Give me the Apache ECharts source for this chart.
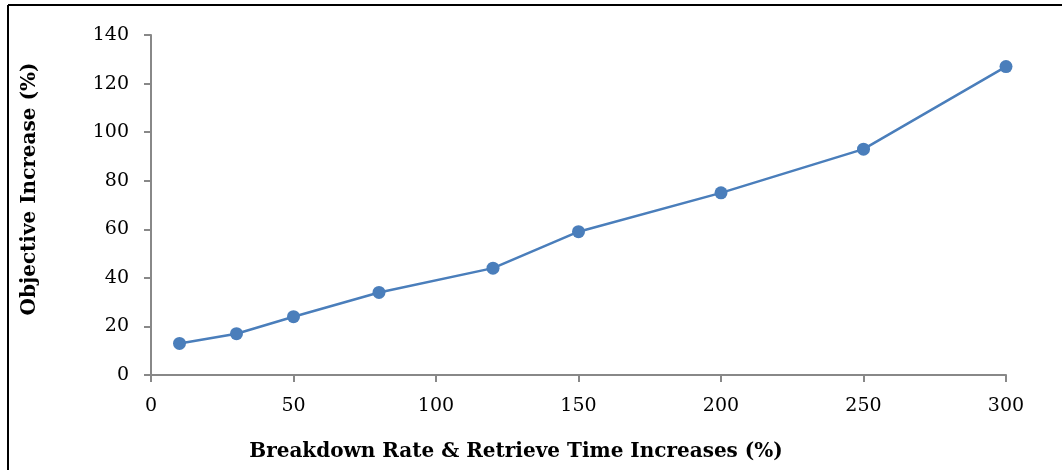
<!DOCTYPE html>
<html><head><meta charset="utf-8">
<script src="https://cdn.jsdelivr.net/npm/echarts@6/dist/echarts.min.js"></script>
<style>html,body{margin:0;padding:0;background:#fff}#c{width:1062px;height:470px}</style>
</head><body><div id="c"></div>
<script>
const xValues = [10, 30, 50, 80, 120, 150, 200, 250, 300];
const yValues = [13, 17, 24, 34, 44, 59, 75, 93, 127];
const xTitle = 'Breakdown Rate & Retrieve Time Increases (%)';
const yTitle = 'Objective Increase (%)';

const chart = echarts.init(document.getElementById('c'));
const font = '"DejaVu Serif",serif';
chart.setOption({
  animation: false,
  graphic: [
    {type:'line', shape:{x1:8,y1:5,x2:1062,y2:5}, style:{stroke:'#000',lineWidth:2}},
    {type:'line', shape:{x1:8,y1:5,x2:8,y2:470}, style:{stroke:'#000',lineWidth:2}},
    {type:'text', x:516, y:452, style:{text:xTitle, font:'bold 20px '+font, fill:'#000', textAlign:'center', textVerticalAlign:'middle'}},
    {type:'text', x:30, y:189, rotation:Math.PI/2, style:{text:yTitle, font:'bold 20px '+font, fill:'#000', textAlign:'center', textVerticalAlign:'middle'}}
  ],
  grid: {left:151, right:56, top:35, bottom:95},
  xAxis: {
    type:'value', min:0, max:300, interval:50,
    axisLine:{lineStyle:{color:'#888',width:2}},
    axisTick:{show:true, length:7, lineStyle:{color:'#888',width:2}},
    axisLabel:{color:'#000', fontSize:19, fontFamily:font, margin:22},
    splitLine:{show:false}
  },
  yAxis: {
    type:'value', min:0, max:140, interval:20,
    axisLine:{show:true, lineStyle:{color:'#888',width:2}},
    axisTick:{show:true, length:7, lineStyle:{color:'#888',width:2}},
    axisLabel:{color:'#000', fontSize:19, fontFamily:font, margin:22},
    splitLine:{show:false}
  },
  series: [{
    type:'line',
    data: xValues.map((x,i)=>[x, yValues[i]]),
    symbol:'circle', symbolSize:13,
    lineStyle:{color:'#4a7ebb', width:2.5},
    itemStyle:{color:'#4a7ebb'}
  }]
});
</script></body></html>
